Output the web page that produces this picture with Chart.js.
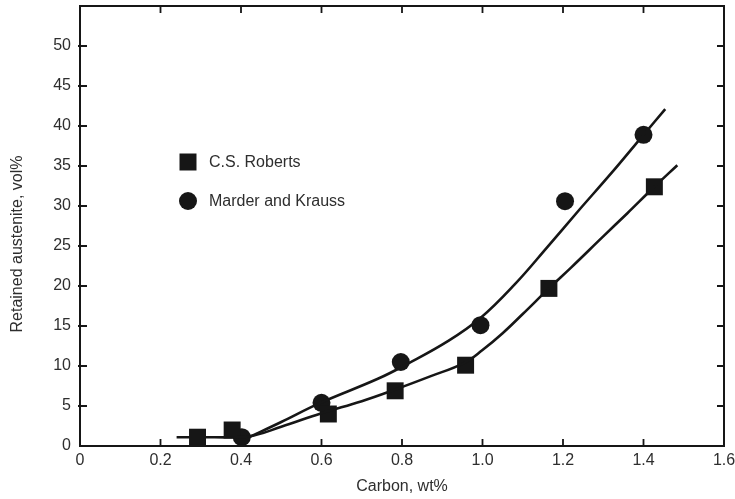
<!DOCTYPE html>
<html><head><meta charset="utf-8">
<script src="https://cdn.jsdelivr.net/npm/chart.js@4/dist/chart.umd.min.js"></script>
<style>html,body{margin:0;padding:0;background:#fff;}#wrap{width:735px;height:499px;position:relative;}</style>
</head><body><div id="wrap"><canvas id="c" width="735" height="499"></canvas></div>
<script>
// ---- data ----
const xTicks = [0, 0.2, 0.4, 0.6, 0.8, 1.0, 1.2, 1.4, 1.6];
const yTicks = [0, 5, 10, 15, 20, 25, 30, 35, 40, 45, 50];
const seriesNames = ['C.S. Roberts', 'Marder and Krauss'];
const xTitle = 'Carbon, wt%';
const yTitle = 'Retained austenite, vol%';

const robertsX = [0.292, 0.378, 0.617, 0.783, 0.958, 1.165, 1.427];
const robertsY = [1.1, 2.0, 4.0, 6.9, 10.1, 19.7, 32.4];
const marderX = [0.402, 0.600, 0.797, 0.995, 1.205, 1.400];
const marderY = [1.1, 5.4, 10.5, 15.1, 30.6, 38.9];

// fitted curves
const robertsCurveX = [0.24, 0.33, 0.42, 0.50, 0.60, 0.70, 0.78, 0.87, 0.955, 1.00, 1.05, 1.10, 1.165, 1.22, 1.30, 1.36, 1.427, 1.484];
const robertsCurveY = [1.1, 1.1, 1.2, 2.4, 4.1, 5.6, 7.0, 8.7, 10.4, 12.0, 14.1, 16.5, 19.7, 22.3, 26.2, 29.1, 32.4, 35.1];
const marderCurveX = [0.42, 0.50, 0.593, 0.74, 0.815, 0.914, 0.995, 1.08, 1.16, 1.24, 1.32, 1.40, 1.454];
const marderCurveY = [1.1, 3.0, 5.3, 8.4, 10.3, 13.1, 16.0, 20.2, 24.8, 29.5, 34.1, 38.9, 42.1];

const zip = (xs, ys) => xs.map((x, i) => ({x: x, y: ys[i]}));
const FONT = '"Liberation Sans", Arial, Helvetica, sans-serif';
const TXT = '#2e2e2e';
const INK = '#161616';

function noPad(s) {
  s.paddingLeft = 0; s.paddingRight = 0; s.paddingTop = 0; s.paddingBottom = 0;
}

const framePlugin = {
  id: 'frameTicks',
  beforeDatasetsDraw(chart) {
    const {ctx, chartArea: a, scales: {x, y}} = chart;
    ctx.save();
    ctx.strokeStyle = INK;
    ctx.lineWidth = 2;
    ctx.strokeRect(a.left, a.top, a.right - a.left, a.bottom - a.top);
    ctx.lineWidth = 1.8;
    const L = 7;
    ctx.beginPath();
    xTicks.forEach(v => {
      const px = x.getPixelForValue(v);
      if (v > 0 && v < 1.6) {
        ctx.moveTo(px, a.bottom); ctx.lineTo(px, a.bottom - L);
        ctx.moveTo(px, a.top); ctx.lineTo(px, a.top + L);
      }
    });
    yTicks.forEach(v => {
      const py = y.getPixelForValue(v);
      if (v > 0) {
        ctx.moveTo(a.left - 2, py); ctx.lineTo(a.left + L, py);
        ctx.moveTo(a.right, py); ctx.lineTo(a.right - L, py);
      }
    });
    ctx.stroke();
    ctx.restore();
  },
  afterDraw(chart) {
    const {ctx} = chart;
    ctx.save();
    ctx.font = '16px ' + FONT;
    ctx.fillStyle = TXT;
    ctx.textAlign = 'center';
    ctx.textBaseline = 'middle';
    ctx.translate(18, 244);
    ctx.rotate(-Math.PI / 2);
    ctx.fillText(yTitle, 0, 0);
    ctx.restore();
    ctx.save();
    ctx.fillStyle = INK;
    ctx.beginPath();
    ctx.rect(188 - 8.5, 162 - 8.5, 17, 17);
    ctx.fill();
    ctx.beginPath();
    ctx.arc(188, 201, 9, 0, Math.PI * 2);
    ctx.fill();
    ctx.font = '16px ' + FONT;
    ctx.fillStyle = TXT;
    ctx.textAlign = 'left';
    ctx.textBaseline = 'middle';
    ctx.fillText(seriesNames[0], 209, 163);
    ctx.fillText(seriesNames[1], 209, 202);
    ctx.restore();
  }
};

new Chart(document.getElementById('c'), {
  type: 'scatter',
  data: {
    datasets: [
      {label: seriesNames[0] + ' fit', data: zip(robertsCurveX, robertsCurveY), showLine: true,
       borderColor: INK, borderWidth: 2.6, pointRadius: 0, tension: 0.4, fill: false},
      {label: seriesNames[1] + ' fit', data: zip(marderCurveX, marderCurveY), showLine: true,
       borderColor: INK, borderWidth: 2.6, pointRadius: 0, tension: 0.4, fill: false},
      {label: seriesNames[0], data: zip(robertsX, robertsY), showLine: false,
       pointStyle: 'rect', pointRadius: 12, backgroundColor: INK, borderWidth: 0},
      {label: seriesNames[1], data: zip(marderX, marderY), showLine: false,
       pointStyle: 'circle', pointRadius: 9, backgroundColor: INK, borderWidth: 0}
    ]
  },
  options: {
    responsive: false,
    animation: false,
    devicePixelRatio: 1,
    layout: {autoPadding: false, padding: {left: 0, top: 6, right: 11, bottom: 0}},
    plugins: {legend: {display: false}, tooltip: {enabled: false}},
    scales: {
      x: {
        type: 'linear', min: 0, max: 1.6,
        afterBuildTicks: s => { s.ticks = xTicks.map(v => ({value: v})); },
        afterFit: s => { s.height = 53; noPad(s); },
        grid: {display: false, drawTicks: false},
        border: {display: false},
        ticks: {padding: 5, color: TXT, font: {size: 16, family: FONT},
                callback: v => (v === 0 ? '0' : Number(v).toFixed(1))},
        title: {display: true, text: xTitle, color: TXT, font: {size: 16, family: FONT},
                padding: {top: 0, bottom: 3}}
      },
      y: {
        type: 'linear', min: 0, max: 55,
        afterBuildTicks: s => { s.ticks = yTicks.map(v => ({value: v})); },
        afterFit: s => { s.width = 80; noPad(s); },
        grid: {display: false, drawTicks: false},
        border: {display: false},
        ticks: {padding: 9, color: TXT, font: {size: 16, family: FONT}},
        title: {display: false}
      }
    }
  },
  plugins: [framePlugin]
});
</script></body></html>
